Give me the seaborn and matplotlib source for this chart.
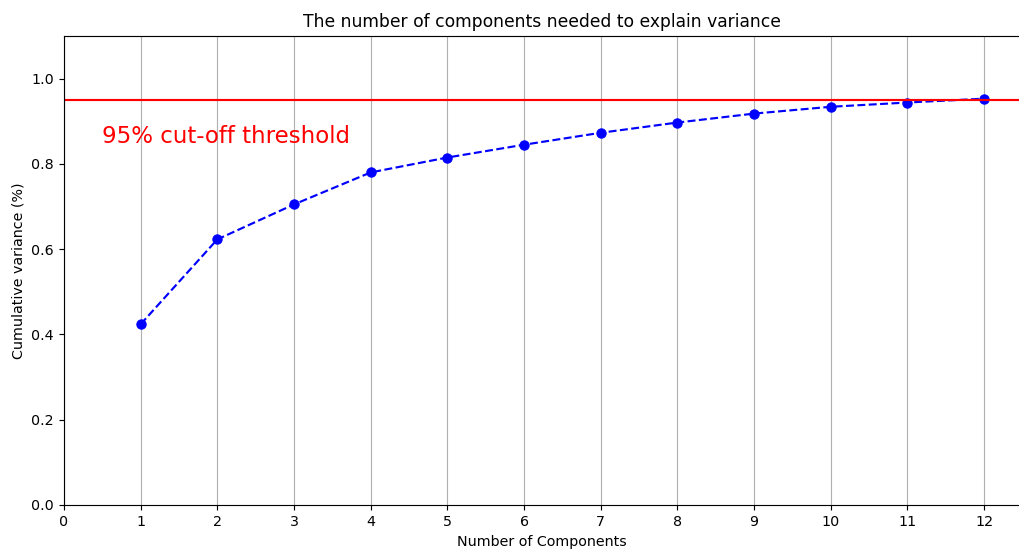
import matplotlib
matplotlib.use("Agg")
import matplotlib.pyplot as plt
import seaborn as sns
import numpy as np

components = [1, 2, 3, 4, 5, 6, 7, 8, 9, 10, 11, 12]
cum_variance = [0.424, 0.623, 0.705, 0.780, 0.815, 0.845, 0.873, 0.897, 0.918, 0.934, 0.944, 0.953]
threshold = 0.95
x_ticks = list(range(0, 13))

DPI = 103
fig = plt.figure(figsize=(1019 / DPI, 549 / DPI), dpi=DPI)
ax = fig.add_axes([64 / 1019, 1 - 505 / 549, (1019 - 64) / 1019, (505 - 36) / 549])

sns.lineplot(x=components, y=cum_variance, ax=ax, marker='o', linestyle='--',
             color='b', markeredgecolor='b', markersize=6.5)
ax.axhline(y=threshold, color='r', linestyle='-', linewidth=1.5)
ax.text(0.5, 0.85, '95% cut-off threshold', color='red', fontsize=16)

ax.set_xlim(0, 12.456)
ax.set_ylim(0.0, 1.1)
ax.set_xticks(x_ticks)
ax.set_xlabel('Number of Components')
ax.set_ylabel('Cumulative variance (%)')
ax.set_title('The number of components needed to explain variance')
ax.grid(axis='x')
ax.spines['right'].set_visible(False)

fig.savefig('out.png', dpi=DPI)
